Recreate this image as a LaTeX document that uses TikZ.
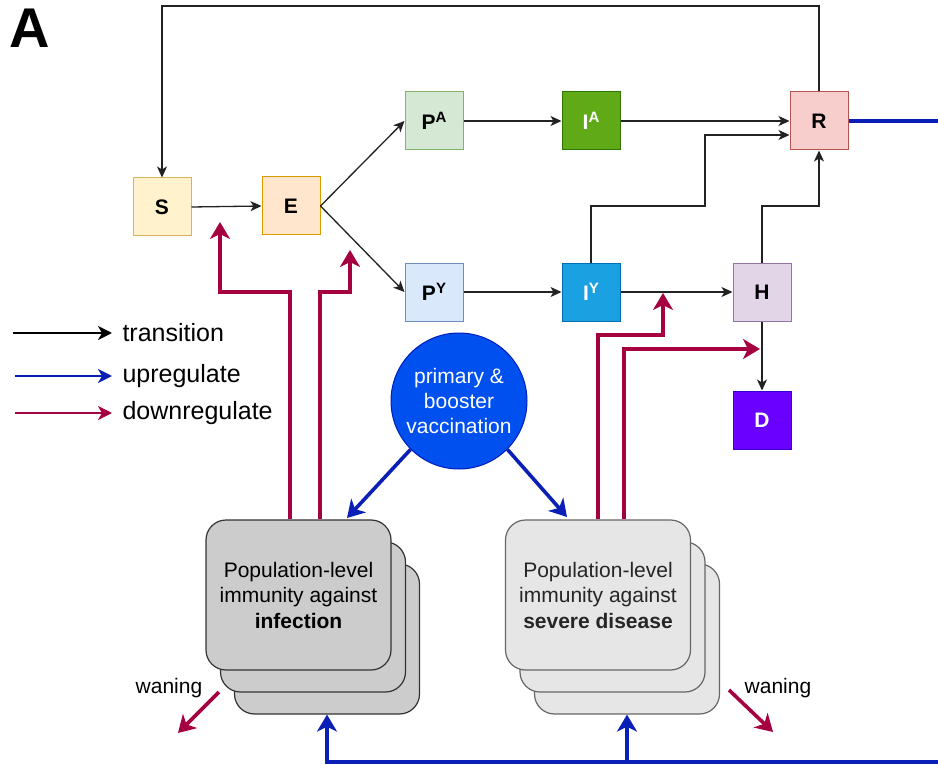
\documentclass[tikz,border=0pt]{standalone}
\usepackage{fontspec}
\setmainfont{Liberation Sans}
\usetikzlibrary{arrows.meta}
\definecolor{sFill}{HTML}{FFF2CC}\definecolor{sLine}{HTML}{D6B656}
\definecolor{eFill}{HTML}{FFE6CC}\definecolor{eLine}{HTML}{D79B00}
\definecolor{paFill}{HTML}{D5E8D4}\definecolor{paLine}{HTML}{82B366}
\definecolor{pyFill}{HTML}{DAE8FC}\definecolor{pyLine}{HTML}{6C8EBF}
\definecolor{iaFill}{HTML}{60A917}\definecolor{iaLine}{HTML}{2D7600}
\definecolor{iyFill}{HTML}{1BA1E2}\definecolor{iyLine}{HTML}{006EAF}
\definecolor{rFill}{HTML}{F8CECC}\definecolor{rLine}{HTML}{B85450}
\definecolor{hFill}{HTML}{E1D5E7}\definecolor{hLine}{HTML}{9673A6}
\definecolor{dFill}{HTML}{6A00FF}\definecolor{dLine}{HTML}{3700CC}
\definecolor{vFill}{HTML}{0050EF}\definecolor{vLine}{HTML}{001DBC}
\definecolor{upCol}{HTML}{0A1FB5}
\definecolor{downCol}{HTML}{A50040}
\definecolor{infFill}{HTML}{CCCCCC}\definecolor{infLine}{HTML}{333333}
\definecolor{sevFill}{HTML}{E6E6E6}\definecolor{sevLine}{HTML}{666666}
\definecolor{transCol}{HTML}{222222}
\tikzset{
  comp/.style={draw, line width=1pt, minimum size=58pt, inner sep=0pt,
    font=\bfseries\fontsize{21}{25}\selectfont},
  trans/.style={draw=transCol, line width=1.3pt, -{Stealth[length=11pt,width=10pt,inset=3pt]}},
  up/.style={draw=upCol, line width=3.6pt, -{Stealth[length=17pt,width=20pt,inset=5pt]}},
  upline/.style={draw=upCol, line width=3.6pt},
  down/.style={draw=downCol, line width=3.6pt, -{Stealth[length=17pt,width=20pt,inset=5pt]}},
  stackbox/.style={rounded corners=20pt, line width=1.2pt, minimum width=185pt, minimum height=150pt, inner sep=0pt},
  poptext/.style={align=center, font=\fontsize{21}{25.5}\selectfont},
  legtext/.style={anchor=west, font=\fontsize{25}{30}\selectfont},
}
\newcommand{\supA}[1]{\raisebox{7pt}{\fontsize{15}{15}\selectfont #1}}
\begin{document}
\begin{tikzpicture}[x=1pt,y=-1pt]
\useasboundingbox[fill=white] (0,0) rectangle (938,765);
% label
\node[anchor=base west, inner sep=0pt, font=\bfseries\fontsize{56}{60}\selectfont] (lblA) at (9,48) {A};
% compartments
\node[comp, fill=sFill, draw=sLine] (S) at (162,207) {S};
\node[comp, fill=eFill, draw=eLine] (E) at (291,206) {E};
\node[comp, fill=paFill, draw=paLine] (PA) at (434,121) {P\supA{A}};
\node[comp, fill=pyFill, draw=pyLine] (PY) at (434,292) {P\supA{Y}};
\node[comp, fill=iaFill, draw=iaLine, text=white] (IA) at (591,121) {I\supA{A}};
\node[comp, fill=iyFill, draw=iyLine, text=white] (IY) at (591,292) {I\supA{Y}};
\node[comp, fill=rFill, draw=rLine] (R) at (819,121) {R};
\node[comp, fill=hFill, draw=hLine] (H) at (762,292) {H};
\node[comp, fill=dFill, draw=dLine, text=white] (D) at (762,420) {D};
% vaccination
\node[circle, fill=vFill, draw=vLine, line width=1pt, minimum size=136pt, inner sep=0pt,
  text=white, align=center, font=\fontsize{21}{25}\selectfont] (vac) at (459,401)
  {primary \&\\booster\\vaccination};
% stacks
\node[stackbox, fill=infFill, draw=infLine] (infback) at (327,639) {};
\node[stackbox, fill=infFill, draw=infLine] (infmid) at (313,617) {};
\node[stackbox, fill=infFill, draw=infLine, poptext, text=black] (inf) at (298.5,595)
  {Population-level\\immunity against\\\textbf{infection}};
\node[stackbox, fill=sevFill, draw=sevLine] (sevback) at (627,639) {};
\node[stackbox, fill=sevFill, draw=sevLine] (sevmid) at (612.5,617) {};
\node[stackbox, fill=sevFill, draw=sevLine, poptext, text=black!85] (sev) at (598,595)
  {Population-level\\immunity against\\\textbf{severe disease}};
% coordinates
\coordinate (topc) at (490,6);
\coordinate (j1) at (705,206);
\coordinate (j2) at (819,206);
% transitions
\draw[trans] (R.north) |- (topc) -| (S.north);
\draw[trans] (S.east) -- (E.west);
\draw[trans] (E.east) -- (PA.west);
\draw[trans] (E.east) -- (PY.west);
\draw[trans] (PA.east) -- (IA.west);
\draw[trans] (IA.east) -- (R.west);
\draw[trans] (IY.north) |- (j1) |- ([yshift=-14pt]R.west);
\draw[trans] (H.north) |- (j2) -- (R.south);
\draw[trans] (PY.east) -- (IY.west);
\draw[trans] (IY.east) -- (H.west);
\draw[trans] (H.south) -- (D.north);
% downregulation
\coordinate (tS) at (220,222);
\coordinate (tE) at (350,250);
\coordinate (tIH) at (663,293);
\coordinate (tHD) at (760,349);
\draw[down] (inf.north -| 290,0) -- (290,292) -| (tS);
\draw[down] (inf.north -| 320,0) -- (320,292) -| (tE);
\draw[down] (sev.north -| 598,0) -- (598,335) -| (tIH);
\draw[down] (sev.north -| 624,0) -- (624,349) -- (tHD);
% upregulation
\coordinate (tInf) at (347,518);
\coordinate (tSev) at (567,517);
\coordinate (rEnd) at (938,121);
\coordinate (bEnd) at (938,762);
\draw[up] (vac.225) -- (tInf);
\draw[up] (vac.315) -- (tSev);
\draw[upline] (R.east) -- (rEnd);
\draw[up] (bEnd) -| (infback.south);
\draw[up] (sevback.south |- bEnd) -- (sevback.south);
% waning
\coordinate (w1s) at (219,692);\coordinate (w1e) at (178,733);
\coordinate (w2s) at (729,690);\coordinate (w2e) at (773,732);
\draw[down] (w1s) -- (w1e);
\draw[down] (w2s) -- (w2e);
\node[font=\fontsize{21}{25}\selectfont, anchor=base] (wan1) at (169,693) {waning};
\node[font=\fontsize{21}{25}\selectfont, anchor=base] (wan2) at (778,693) {waning};
% legend
\coordinate (l1a) at (13,333);\coordinate (l1b) at (112,333);
\coordinate (l2a) at (15,376);\coordinate (l2b) at (112,376);
\coordinate (l3a) at (15,413);\coordinate (l3b) at (112,413);
\draw[draw=black, line width=2pt, -{Stealth[length=14pt,width=14pt,inset=4pt]}] (l1a) -- (l1b);
\draw[draw=upCol, line width=2pt, -{Stealth[length=14pt,width=14pt,inset=4pt]}] (l2a) -- (l2b);
\draw[draw=downCol, line width=2pt, -{Stealth[length=14pt,width=14pt,inset=4pt]}] (l3a) -- (l3b);
\node[legtext] (lt1) at (119,333) {transition};
\node[legtext] (lt2) at (119,376) {upregulate};
\node[legtext] (lt3) at (119,413) {downregulate};
\end{tikzpicture}
\end{document}
